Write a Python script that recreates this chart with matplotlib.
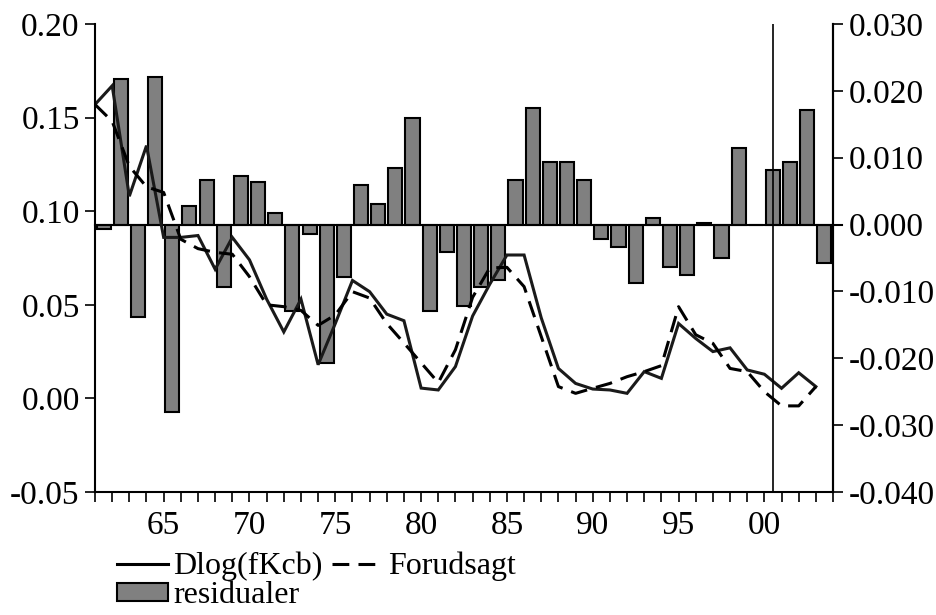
import matplotlib
matplotlib.use('Agg')
import matplotlib.pyplot as plt
from matplotlib.lines import Line2D
from matplotlib.patches import Patch

plt.rcParams['font.family'] = ['Liberation Serif', 'DejaVu Serif']
plt.rcParams['axes.unicode_minus'] = False

# Data (annual, 1961-2003)
years = list(range(1961, 2004))

dlog_fkcb = [0.157, 0.167, 0.108, 0.135, 0.086, 0.086, 0.087, 0.069, 0.086, 0.074,
             0.053, 0.0355, 0.053, 0.018, 0.040, 0.063, 0.057, 0.045, 0.0415, 0.0055,
             0.0045, 0.017, 0.044, 0.061, 0.0766, 0.0766, 0.043, 0.016, 0.008, 0.005,
             0.0045, 0.0027, 0.0143, 0.0107, 0.040, 0.032, 0.025, 0.027, 0.0152, 0.0129,
             0.0054, 0.0137, 0.0063]

forudsagt = [0.157, 0.148, 0.124, 0.113, 0.110, 0.085, 0.080, 0.078, 0.077, 0.065,
             0.050, 0.049, 0.047, 0.039, 0.0446, 0.057, 0.0536, 0.040, 0.0296, 0.019,
             0.0084, 0.026, 0.054, 0.0697, 0.070, 0.0597, 0.033, 0.0063, 0.0027, 0.0054,
             0.008, 0.0116, 0.0143, 0.0175, 0.049, 0.034, 0.0294, 0.016, 0.0143, 0.0036,
             -0.004, -0.004, 0.0063]

residualer = [-0.0006, 0.0218, -0.0138, 0.0220, -0.0281, 0.0028, 0.0066, -0.0094, 0.0072, 0.0064,
              0.0018, -0.0129, -0.0014, -0.0207, -0.0079, 0.0059, 0.0031, 0.0084, 0.0159, -0.0129,
              -0.0041, -0.0122, -0.0094, -0.0083, 0.0066, 0.0174, 0.0094, 0.0094, 0.0066, -0.0022,
              -0.0034, -0.0088, 0.0010, -0.0063, -0.0076, 0.0003, -0.0050, 0.0115, 0.0000, 0.0081,
              0.0094, 0.0172, -0.0057]

left_ticks = [-0.05, 0.00, 0.05, 0.10, 0.15, 0.20]
right_ticks = [-0.040, -0.030, -0.020, -0.010, 0.000, 0.010, 0.020, 0.030]
label_years = [1965, 1970, 1975, 1980, 1985, 1990, 1995, 2000]

dash = (0, (5.5, 3))

fig = plt.figure(figsize=(9.36, 6.15), dpi=100)
ax = fig.add_axes([0.1015, 0.2, 0.7885, 0.761])
ax2 = ax.twinx()
ax.set_zorder(ax2.get_zorder() + 1)
ax.patch.set_visible(False)

# residual bars on right axis, centred in each year's interval
bar_x = [y + 0.5 for y in years]
ax2.bar(bar_x, residualer, width=0.82, color='#808080', edgecolor='black', linewidth=1.5)
ax2.axhline(0, color='black', linewidth=1.5, xmin=0, xmax=1.012, clip_on=False)
ax2.set_ylim(-0.040, 0.030)
ax2.set_yticks(right_ticks)
ax2.set_yticklabels(['%.3f' % t for t in right_ticks])

ax.plot(years, dlog_fkcb, color='#1a1a1a', linewidth=2.2, solid_joinstyle='miter')
ax.plot(years, forudsagt, color='black', linewidth=2.2, linestyle=dash)
ax.axvline(2000.5, color='black', linewidth=1.2)

ax.set_ylim(-0.05, 0.20)
ax.set_yticks(left_ticks)
ax.set_yticklabels(['%.2f' % t for t in left_ticks])
ax.set_xlim(1961, 2004)
ax.set_xticks(range(1961, 2005), minor=True)
ax.set_xticks(label_years)
ax.set_xticklabels(['%02d' % (y % 100) for y in label_years])

for a in (ax, ax2):
    a.spines['top'].set_visible(False)
    for s in a.spines.values():
        s.set_linewidth(1.5)
    a.tick_params(axis='both', which='both', direction='out', length=7, width=1.2,
                  labelsize=24, pad=4)
ax.tick_params(axis='x', which='major', pad=6)
ax2.spines['left'].set_visible(False)
ax2.spines['bottom'].set_visible(False)

handles = [Line2D([], [], color='black', linewidth=2.2),
           Patch(facecolor='#808080', edgecolor='black', linewidth=1.5),
           Line2D([], [], color='black', linewidth=2.2, linestyle=dash)]
labels = ['Dlog(fKcb)', 'residualer', 'Forudsagt']
fig.legend(handles, labels, ncol=2, loc='upper left', bbox_to_anchor=(0.125, 0.103),
           frameon=False, fontsize=23, handlelength=1.6, handleheight=0.5,
           handletextpad=0.15, columnspacing=0.3, labelspacing=0.0,
           borderpad=0, borderaxespad=0)

fig.savefig('out.png', dpi=100)
